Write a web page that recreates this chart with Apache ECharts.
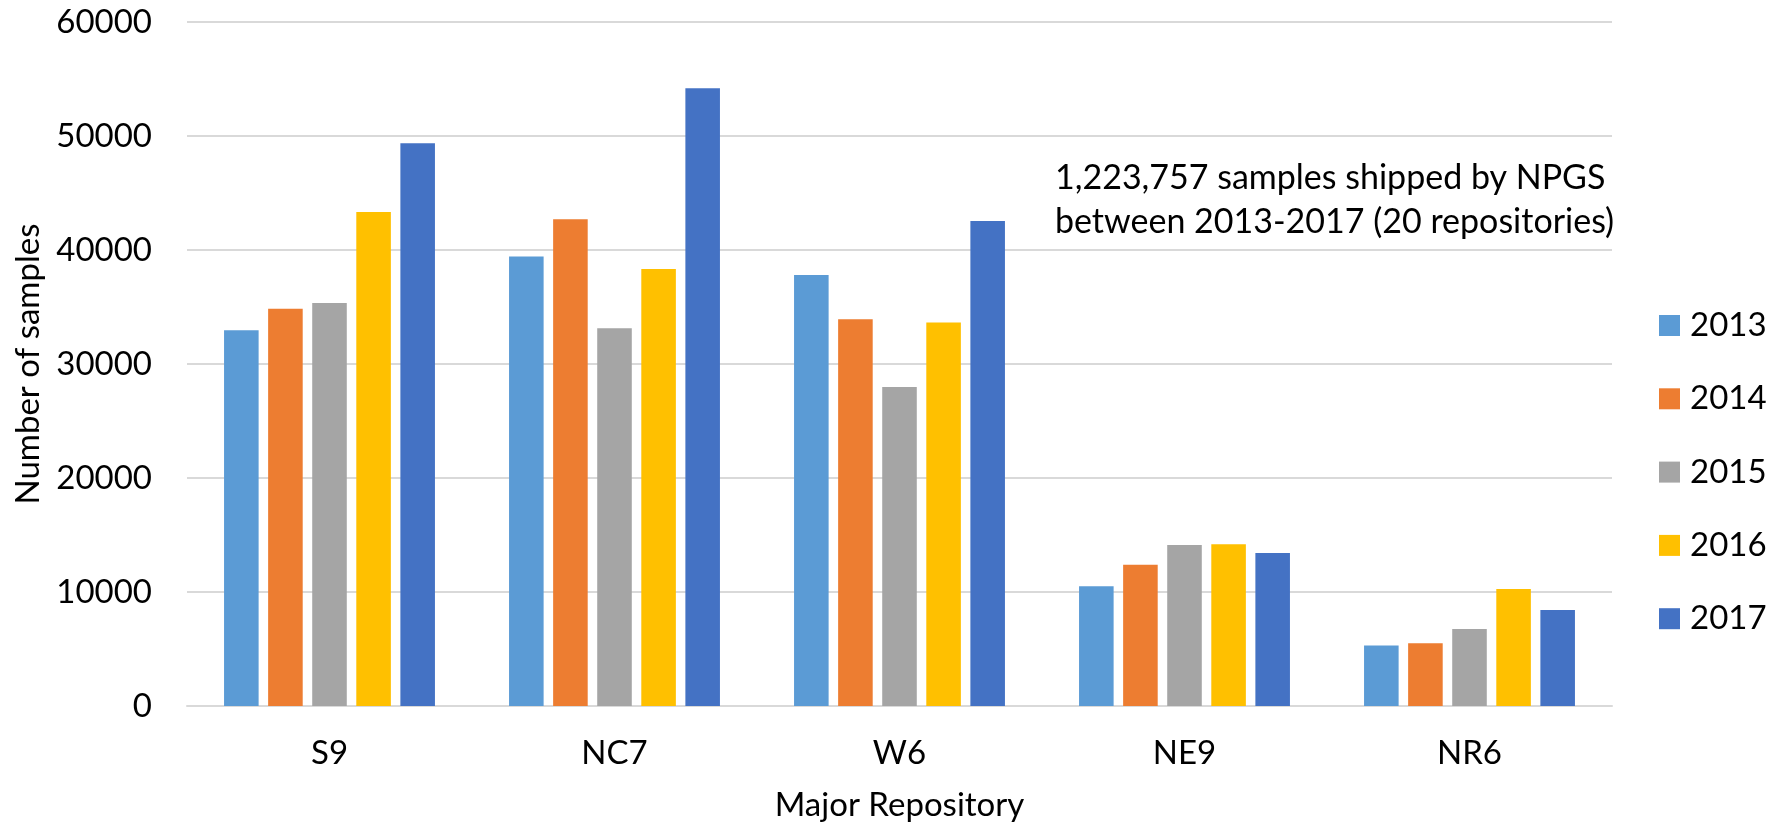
<!DOCTYPE html>
<html>
<head>
<meta charset="utf-8">
<script src="https://cdn.jsdelivr.net/npm/echarts@6/dist/echarts.min.js"></script>
<style>
  html, body { margin: 0; padding: 0; background: #fff; }
  #chart { width: 1778px; height: 829px; }
</style>
</head>
<body>
<div id="chart"></div>
<script>
// Samples shipped per major NPGS repository, by year
const repositories = ['S9', 'NC7', 'W6', 'NE9', 'NR6'];
const years = ['2013', '2014', '2015', '2016', '2017'];
const samples2013 = [32950, 39440, 37810, 10500, 5300];
const samples2014 = [34850, 42690, 33920, 12400, 5500];
const samples2015 = [35350, 33130, 27980, 14130, 6760];
const samples2016 = [43330, 38330, 33650, 14190, 10260];
const samples2017 = [49360, 54180, 42540, 13430, 8430];
const yTicks = [0, 10000, 20000, 30000, 40000, 50000, 60000];
const noteLines = ['1,223,757 samples shipped by NPGS', 'between 2013-2017 (20 repositories)'];

const yearColors = ['#5B9BD5', '#ED7D31', '#A5A5A5', '#FFC000', '#4472C4'];
const seriesValues = [samples2013, samples2014, samples2015, samples2016, samples2017];
const FONT = 'Lato, "Open Sans", sans-serif';
const FS = 33;

const chart = echarts.init(document.getElementById('chart'), null, { renderer: 'canvas' });

chart.setOption({
  animation: false,
  backgroundColor: '#ffffff',
  color: yearColors,
  textStyle: { fontFamily: FONT, color: '#000' },
  grid: { left: 187, right: 166, top: 22, bottom: 123, containLabel: false },
  legend: {
    orient: 'vertical',
    left: 1654,
    top: 304,
    itemWidth: 21,
    itemHeight: 21,
    itemGap: 40.3,
    icon: 'rect',
    data: years,
    textStyle: { fontFamily: FONT, fontSize: FS, color: '#000', lineHeight: 21, padding: [0, 0, 0, 5] }
  },
  xAxis: {
    type: 'category',
    data: repositories,
    name: 'Major Repository',
    nameLocation: 'middle',
    nameGap: 83,
    nameTextStyle: { fontFamily: FONT, fontSize: FS, color: '#000' },
    axisLine: { lineStyle: { color: '#d9d9d9', width: 2 } },
    axisTick: { show: false },
    axisLabel: { fontFamily: FONT, fontSize: FS, color: '#000', margin: 31 },
    splitLine: { show: false }
  },
  yAxis: {
    type: 'value',
    min: yTicks[0],
    max: yTicks[yTicks.length - 1],
    interval: yTicks[1] - yTicks[0],
    name: 'Number of samples',
    nameLocation: 'middle',
    nameGap: 142,
    nameTextStyle: { fontFamily: FONT, fontSize: FS, color: '#000' },
    axisLine: { show: false },
    axisTick: { show: false },
    axisLabel: {
      fontFamily: FONT, fontSize: FS, color: '#000', margin: 35,
      formatter: (v) => String(v)
    },
    splitLine: { lineStyle: { color: '#d9d9d9', width: 2 } }
  },
  series: years.map((y, i) => ({
    name: y,
    type: 'bar',
    data: seriesValues[i],
    barGap: '27.5%',
    barCategoryGap: '26%',
    itemStyle: { color: yearColors[i] }
  })),
  graphic: [{
    type: 'text',
    left: 1055,
    top: 156,
    style: {
      text: noteLines.join('\n'),
      font: '34px ' + FONT,
      fill: '#000',
      lineHeight: 44
    }
  }]
});
</script>
</body>
</html>
